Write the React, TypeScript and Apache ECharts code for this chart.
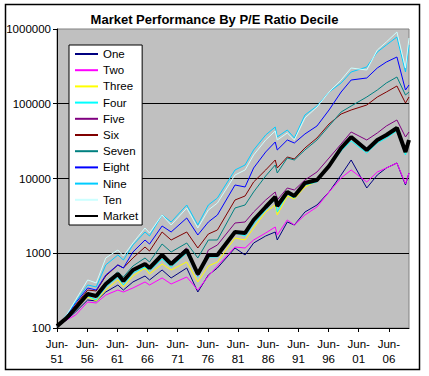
import React, { useEffect, useRef } from 'react';
import * as echarts from 'echarts';

const dates = [
  '1951-06', '1953-01', '1954-07', '1956-07', '1957-12', '1959-07', '1961-07', '1962-06', '1964-01',
  '1966-01', '1966-10', '1968-11', '1970-05', '1972-12', '1974-10', '1976-07', '1978-01', '1980-12',
  '1982-08', '1984-01', '1986-01', '1987-08', '1987-12', '1989-08', '1990-10', '1992-07', '1994-07',
  '1996-07', '1998-07', '2000-03', '2002-10', '2004-07', '2006-01', '2007-10', '2009-03', '2009-10',
];

const one = [106, 128, 164, 237, 230, 303, 376, 322, 413, 496, 439, 597, 467, 635, 303, 512, 635, 1175,
  948, 1371, 1702, 1925, 1504, 2619, 2388, 3562, 4421, 6598, 11140, 17684, 7463, 11140, 13822, 16125, 8186, 11848];
const two = [106, 128, 149, 223, 216, 276, 322, 303, 343, 413, 376, 467, 388, 481, 322, 496, 675, 1212,
  1175, 1504, 1866, 2245, 1755, 2786, 2388, 3250, 4157, 6598, 10157, 12996, 8979, 12219, 13822, 16125, 8442, 11848];
const three = [106, 132, 174, 260, 230, 322, 439, 354, 496, 635, 528, 718, 597, 764, 413, 675, 764, 1600,
  1504, 2177, 3562, 4421, 3250, 5833, 5318, 7697, 9260, 14700, 24064, 34827, 24064, 31753, 37040, 44554, 21941, 31753];
const four = [106, 136, 174, 268, 237, 354, 481, 376, 544, 655, 579, 838, 655, 1008, 481, 891, 891, 1866,
  1702, 2463, 3790, 5318, 3562, 6204, 5485, 8186, 8979, 14254, 23335, 31753, 21941, 29855, 34827, 43203, 20629, 29855];
const five = [106, 136, 185, 294, 268, 388, 528, 426, 597, 718, 635, 948, 764, 1175, 496, 1105, 1289, 2539,
  2619, 3562, 5157, 6598, 5157, 7463, 7017, 9550, 12219, 18808, 28950, 41893, 32745, 40623, 50395, 60626, 35917, 41893];
const six = [106, 140, 203, 322, 313, 496, 697, 635, 864, 1212, 1070, 1925, 1504, 1925, 1175, 1809, 2047, 5157,
  5833, 8979, 12996, 17684, 13822, 19396, 18237, 25594, 34827, 53600, 72900, 82490, 96200, 123100, 143600, 172800, 102300, 123100];
const seven = [106, 136, 191, 294, 276, 413, 561, 481, 675, 864, 764, 1329, 1039, 1371, 864, 1504, 1504, 4031,
  4421, 6598, 10802, 15160, 11848, 18808, 17684, 24064, 32745, 50395, 77560, 93300, 123100, 152700, 189500, 228000, 130900, 143600];
const eight = [106, 145, 216, 343, 322, 512, 697, 635, 1039, 1504, 1329, 2315, 1925, 2962, 1755, 2619, 3250, 8186,
  7697, 13822, 22627, 30790, 24064, 32745, 29855, 39392, 50395, 82490, 143600, 207800, 221100, 300800, 361800, 422100, 152700, 178200];
const nine = [106, 149, 223, 376, 354, 697, 948, 812, 1289, 1925, 1702, 3250, 2619, 4421, 2388, 4421, 5485, 12996,
  15160, 24064, 38198, 48867, 35917, 44554, 34827, 70700, 93300, 143600, 189500, 265900, 310200, 492200, 610900, 781600, 265900, 610900];
const ten = [106, 149, 237, 439, 400, 864, 1105, 919, 1371, 2177, 1866, 3250, 2388, 4031, 2177, 3790, 4702, 11140,
  12996, 20629, 32745, 43203, 32745, 40623, 32745, 64480, 90470, 143600, 207800, 300800, 282800, 523600, 669900, 911800, 300800, 757800];
const market = [106, 136, 185, 285, 268, 388, 528, 426, 597, 718, 635, 948, 718, 1105, 528, 948, 948, 1925,
  1866, 2786, 4157, 5656, 4287, 6598, 5833, 8706, 9550, 14700, 25594, 35917, 24064, 32745, 38198, 47385, 22627, 32745];

const seriesNames = ['One', 'Two', 'Three', 'Four', 'Five', 'Six', 'Seven', 'Eight', 'Nine', 'Ten', 'Market'];
const seriesValues = [one, two, three, four, five, six, seven, eight, nine, ten, market];
const seriesColors = ['#000080', '#FF00FF', '#FFFF00', '#00FFFF', '#800080', '#800000', '#008080', '#0000FF', '#00CCFF', '#CCFFFF', '#000000'];

const tickLabels = ['51', '56', '61', '66', '71', '76', '81', '86', '91', '96', '01', '06'];
const yTickValues = [100, 1000, 10000, 100000, 1000000];

const FONT = '"Liberation Sans", Arial, sans-serif';

function monthIndex(d: string): number {
  const [y, m] = d.split('-').map(Number);
  return (y - 1951) * 12 + (m - 6);
}

export default function App() {
  const ref = useRef<HTMLDivElement>(null);
  useEffect(() => {
    if (!ref.current) return;
    const chart = echarts.init(ref.current, undefined, { renderer: 'svg' });
    const xTicks = tickLabels.map((_, i) => i * 60);
    const lastMonth = monthIndex(dates[dates.length - 1]);
    chart.setOption({
      animation: false,
      backgroundColor: '#ffffff',
      textStyle: { fontFamily: FONT },
      title: {
        text: 'Market Performance By P/E Ratio Decile',
        left: 'center',
        top: 8,
        textStyle: { fontSize: 13, fontWeight: 'bold', color: '#000', fontFamily: FONT },
      },
      graphic: [
        {
          type: 'rect',
          shape: { x: 5.5, y: 4.5, width: 414, height: 365 },
          style: { fill: 'none', stroke: '#000', lineWidth: 1.5 },
          silent: true,
          z: 100,
        },
      ],
      legend: {
        orient: 'vertical',
        left: 69,
        top: 45,
        padding: [2, 4, 2, 5],
        itemWidth: 23,
        itemHeight: 14,
        itemGap: 2.2,
        backgroundColor: '#ffffff',
        borderColor: '#000',
        borderWidth: 1,
        selectedMode: false,
        itemStyle: { opacity: 0 },
        textStyle: { fontSize: 11.5, color: '#000', fontFamily: FONT, lineHeight: 14 },
        data: seriesNames,
        z: 10,
      },
      grid: {
        left: 57,
        top: 29,
        width: 352,
        height: 299,
        show: true,
        backgroundColor: '#C0C0C0',
        borderColor: '#808080',
        borderWidth: 1,
      },
      xAxis: {
        type: 'value',
        min: 0,
        max: lastMonth,
        interval: 60,
        axisLine: { show: true, onZero: false, lineStyle: { color: '#000', width: 1 } },
        axisTick: { show: true, length: 4, lineStyle: { color: '#000' }, customValues: xTicks },
        axisLabel: {
          show: true,
          customValues: xTicks,
          margin: 8,
          fontSize: 11.5,
          lineHeight: 15,
          color: '#000',
          fontFamily: FONT,
          formatter: (v: number) => {
            const i = Math.round(v / 60);
            return tickLabels[i] !== undefined ? 'Jun-\n' + tickLabels[i] : '';
          },
        },
        splitLine: { show: false },
      },
      yAxis: {
        type: 'log',
        logBase: 10,
        min: yTickValues[0],
        max: yTickValues[yTickValues.length - 1],
        axisLine: { show: true, onZero: false, lineStyle: { color: '#000', width: 1 } },
        axisTick: { show: true, length: 4, lineStyle: { color: '#000' } },
        axisLabel: {
          margin: 6,
          fontSize: 11.5,
          color: '#000',
          fontFamily: FONT,
          formatter: (v: number) => String(Math.round(v)),
        },
        splitLine: { show: true, showMaxLine: false, showMinLine: false, lineStyle: { color: '#000', width: 1 } },
        minorTick: { show: false },
        minorSplitLine: { show: false },
      },
      series: seriesNames.map((name, si) => ({
        name,
        type: 'line',
        symbol: 'none',
        showSymbol: false,
        data: dates.map((d, i) => [monthIndex(d), seriesValues[si][i]]),
        lineStyle: { color: seriesColors[si], width: name === 'Market' ? 4 : 1 },
        itemStyle: { color: seriesColors[si] },
        emphasis: { disabled: true },
        z: 2 + si * 0.01,
      })),
    });
    return () => chart.dispose();
  }, []);
  return <div ref={ref} style={{ position: 'absolute', left: 0, top: 0, width: 429, height: 376 }} />;
}
